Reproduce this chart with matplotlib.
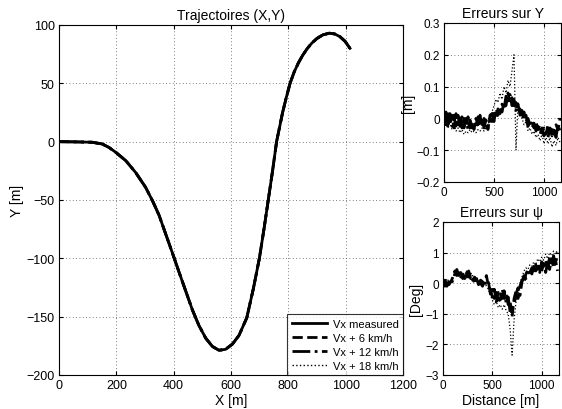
import matplotlib
matplotlib.use("Agg")
import matplotlib.pyplot as plt

plt.rcParams['font.family'] = ['Liberation Sans', 'DejaVu Sans']

# --- Trajectory (X,Y) in metres ---
traj_x = [0, 60, 116, 151, 174, 198, 233, 267, 302, 326, 349, 372, 395, 419, 442,
          465, 488, 512, 535, 558, 581, 605, 628, 655, 678, 699, 715, 730, 745, 759,
          780, 793, 806, 820, 835, 850, 865, 882, 900, 920, 943, 962, 980, 998, 1015]
traj_y = [0, -0.2, -0.5, -2, -4.9, -9.1, -16.3, -26.3, -39.1, -50.6, -63, -79, -95,
          -112, -128, -144, -157.5, -168.5, -175.5, -178.8, -178, -173.5, -166, -151,
          -126, -100, -75, -50, -25, 0, 25, 38, 50, 59.5, 67.5, 74, 79.5, 84.5, 88.5,
          91.5, 93, 92.3, 90, 86, 80]

legend_labels = ['Vx measured', 'Vx + 6 km/h', 'Vx + 12 km/h', 'Vx + 18 km/h']

# --- Error plots: distance [m] ---
dist = [0, 20, 40, 60, 80, 100, 120, 140, 160, 180, 200, 220, 240, 260, 280, 300,
        320, 340, 360, 380, 400, 420, 440, 460, 480, 500, 520, 540, 560, 580, 600,
        620, 640, 660, 680, 700, 720, 740, 760, 780, 800, 820, 840, 860, 880, 900,
        920, 940, 960, 980, 1000, 1020, 1040, 1060, 1080, 1100, 1120, 1140, 1160]

errY_6 = [0.01, -0.03, 0.02, -0.02, 0.01, -0.03, 0.015, -0.02, 0.01, -0.03, 0.0, -0.025,
          0.005, -0.03, -0.01, -0.035, 0.0, -0.02, 0.01, -0.025, 0.0, -0.02, -0.035, 0.01,
          0.015, -0.01, 0.03, 0.01, 0.035, 0.02, 0.05, 0.04, 0.08, 0.05, 0.065, 0.03, 0.05,
          0.02, 0.03, 0.0, 0.02, -0.01, 0.0, -0.02, -0.01, -0.03, -0.01, -0.035, -0.02,
          -0.045, -0.03, -0.05, -0.02, -0.045, -0.025, -0.05, -0.02, -0.035, 0.0]
errY_12 = [-0.01, 0.02, -0.03, 0.015, -0.025, 0.01, -0.03, 0.01, -0.025, 0.005, -0.03, 0.0,
           -0.035, -0.005, -0.03, -0.01, -0.03, 0.005, -0.025, 0.0, -0.03, -0.005, -0.03, 0.0,
           -0.01, 0.025, 0.0, 0.03, 0.015, 0.045, 0.03, 0.07, 0.055, 0.075, 0.04, 0.06, 0.025,
           0.045, 0.01, 0.025, -0.005, 0.01, -0.025, -0.005, -0.03, -0.015, -0.04, -0.02,
           -0.05, -0.03, -0.055, -0.035, -0.06, -0.03, -0.055, -0.03, -0.06, -0.02, -0.04]
errY_18 = [-0.02, 0.0, -0.03, -0.01, -0.035, -0.02, -0.04, -0.03, -0.045, -0.035, -0.05, -0.04,
           -0.045, -0.035, -0.045, -0.04, -0.045, -0.035, -0.04, -0.03, -0.04, -0.03, -0.02, 0.0,
           0.02, 0.04, 0.06, 0.05, 0.08, 0.06, 0.1, 0.08, 0.12, 0.1, 0.15, 0.2, -0.1, 0.05,
           0.02, 0.0, -0.02, -0.01, -0.04, -0.03, -0.05, -0.04, -0.06, -0.05, -0.07, -0.05,
           -0.08, -0.06, -0.08, -0.06, -0.09, -0.07, -0.085, -0.06, -0.075]

errPsi_6 = [0.05, -0.1, 0.1, -0.05, 0.05, 0.2, 0.4, 0.25, 0.35, 0.2, 0.3, 0.15, 0.35, 0.2,
            0.3, 0.1, 0.2, 0.05, 0.1, 0.0, -0.1, 0.05, 0.25, -0.1, -0.2, -0.45, -0.2, -0.6,
            -0.3, -0.55, -0.2, -0.5, -0.35, -0.7, -0.6, -1.1, -0.5, -0.25, -0.5, -0.1, 0.1,
            0.0, 0.3, 0.45, 0.35, 0.5, 0.4, 0.6, 0.45, 0.55, 0.4, 0.65, 0.35, 0.7, 0.45, 0.8,
            0.5, 0.75, 0.4]
errPsi_12 = [-0.05, 0.1, -0.1, 0.05, -0.05, 0.1, 0.3, 0.45, 0.25, 0.35, 0.15, 0.3, 0.2, 0.4,
             0.15, 0.2, 0.0, 0.15, -0.05, 0.1, 0.05, -0.1, 0.1, 0.05, -0.35, -0.1, -0.5, -0.3,
             -0.65, -0.35, -0.5, -0.25, -0.65, -0.45, -0.95, -0.8, -0.7, -0.35, -0.15, -0.4,
             0.05, 0.25, 0.15, 0.3, 0.45, 0.3, 0.55, 0.4, 0.6, 0.35, 0.7, 0.45, 0.75, 0.5,
             0.85, 0.55, 0.9, 0.6, 1.0]
errPsi_18 = [0.1, 0.0, 0.15, 0.05, 0.0, 0.2, 0.35, 0.3, 0.4, 0.3, 0.35, 0.25, 0.4, 0.3, 0.2,
             0.25, 0.1, 0.2, 0.05, 0.1, 0.0, 0.05, -0.1, -0.2, -0.4, -0.55, -0.7, -0.6, -0.8,
             -0.7, -0.85, -0.7, -0.9, -1.0, -1.5, -2.35, -1.2, -0.6, -0.3, 0.0, 0.2, 0.4, 0.5,
             0.45, 0.6, 0.55, 0.7, 0.6, 0.8, 0.7, 0.85, 0.75, 0.95, 0.8, 1.0, 0.9, 1.05, 0.95,
             1.1]

W, H = 562, 410
fig = plt.figure(figsize=(W / 100, H / 100), dpi=100)

def rect(l, t, r, b):
    return [l / W, 1 - b / H, (r - l) / W, (b - t) / H]

def style(ax, size=9):
    ax.grid(True, linestyle=(0, (1, 3)), color='#555555', linewidth=0.6)
    ax.tick_params(direction='in', length=3, labelsize=size, top=True, right=True, pad=3)
    for s in ax.spines.values():
        s.set_linewidth(0.8)

# Main axes
ax = fig.add_axes(rect(59, 26, 403, 376))
styles = ['-', '--', '-.', ':']
lws = [2.0, 2.0, 2.0, 1.0]
for ls, lw, lab in zip(styles, lws, legend_labels):
    ax.plot(traj_x, traj_y, color='black', linestyle=ls, linewidth=lw, label=lab,
            solid_joinstyle='round', dash_joinstyle='round')
ax.set_xlim(0, 1200)
ax.set_ylim(-200, 100)
ax.set_xticks([0, 200, 400, 600, 800, 1000, 1200])
ax.set_yticks([-200, -150, -100, -50, 0, 50, 100])
style(ax)
ax.set_title('Trajectoires (X,Y)', fontsize=10, pad=4)
ax.set_xlabel('X [m]', fontsize=10, labelpad=1)
ax.set_ylabel('Y [m]', fontsize=10, labelpad=2)
leg = ax.legend(loc='lower right', fontsize=8, frameon=True, fancybox=False,
                borderaxespad=0, handlelength=3.2, labelspacing=0.35,
                borderpad=0.4, handletextpad=0.5)
leg.get_frame().set_edgecolor('black')
leg.get_frame().set_linewidth(0.8)

# Top right: errors on Y
ax2 = fig.add_axes(rect(444, 24, 561, 183))
ax2.plot(dist, errY_6, color='black', linestyle='--', linewidth=2.0)
ax2.plot(dist, errY_12, color='black', linestyle='-.', linewidth=2.0)
ax2.plot(dist, errY_18, color='black', linestyle=':', linewidth=0.9)
ax2.set_xlim(0, 1170)
ax2.set_ylim(-0.2, 0.3)
ax2.set_xticks([0, 500, 1000])
ax2.set_yticks([-0.2, -0.1, 0, 0.1, 0.2, 0.3])
ax2.set_yticklabels(['\u22120.2', '\u22120.1', '0', '0.1', '0.2', '0.3'])
style(ax2, 8.5)
ax2.set_title('Erreurs sur Y', fontsize=10, pad=4)
ax2.set_ylabel('[m]', fontsize=10, labelpad=1)

# Bottom right: errors on psi
ax3 = fig.add_axes(rect(443, 223, 559, 376))
ax3.plot(dist, errPsi_6, color='black', linestyle='--', linewidth=2.0)
ax3.plot(dist, errPsi_12, color='black', linestyle='-.', linewidth=2.0)
ax3.plot(dist, errPsi_18, color='black', linestyle=':', linewidth=0.9)
ax3.set_xlim(0, 1175)
ax3.set_ylim(-3, 2)
ax3.set_xticks([0, 500, 1000])
ax3.set_yticks([-3, -2, -1, 0, 1, 2])
style(ax3, 8.5)
ax3.set_title('Erreurs sur \u03c8', fontsize=10, pad=4)
ax3.set_ylabel('[Deg]', fontsize=10, labelpad=2)
ax3.set_xlabel('Distance [m]', fontsize=10, labelpad=1)

fig.savefig('out.png', dpi=100)
